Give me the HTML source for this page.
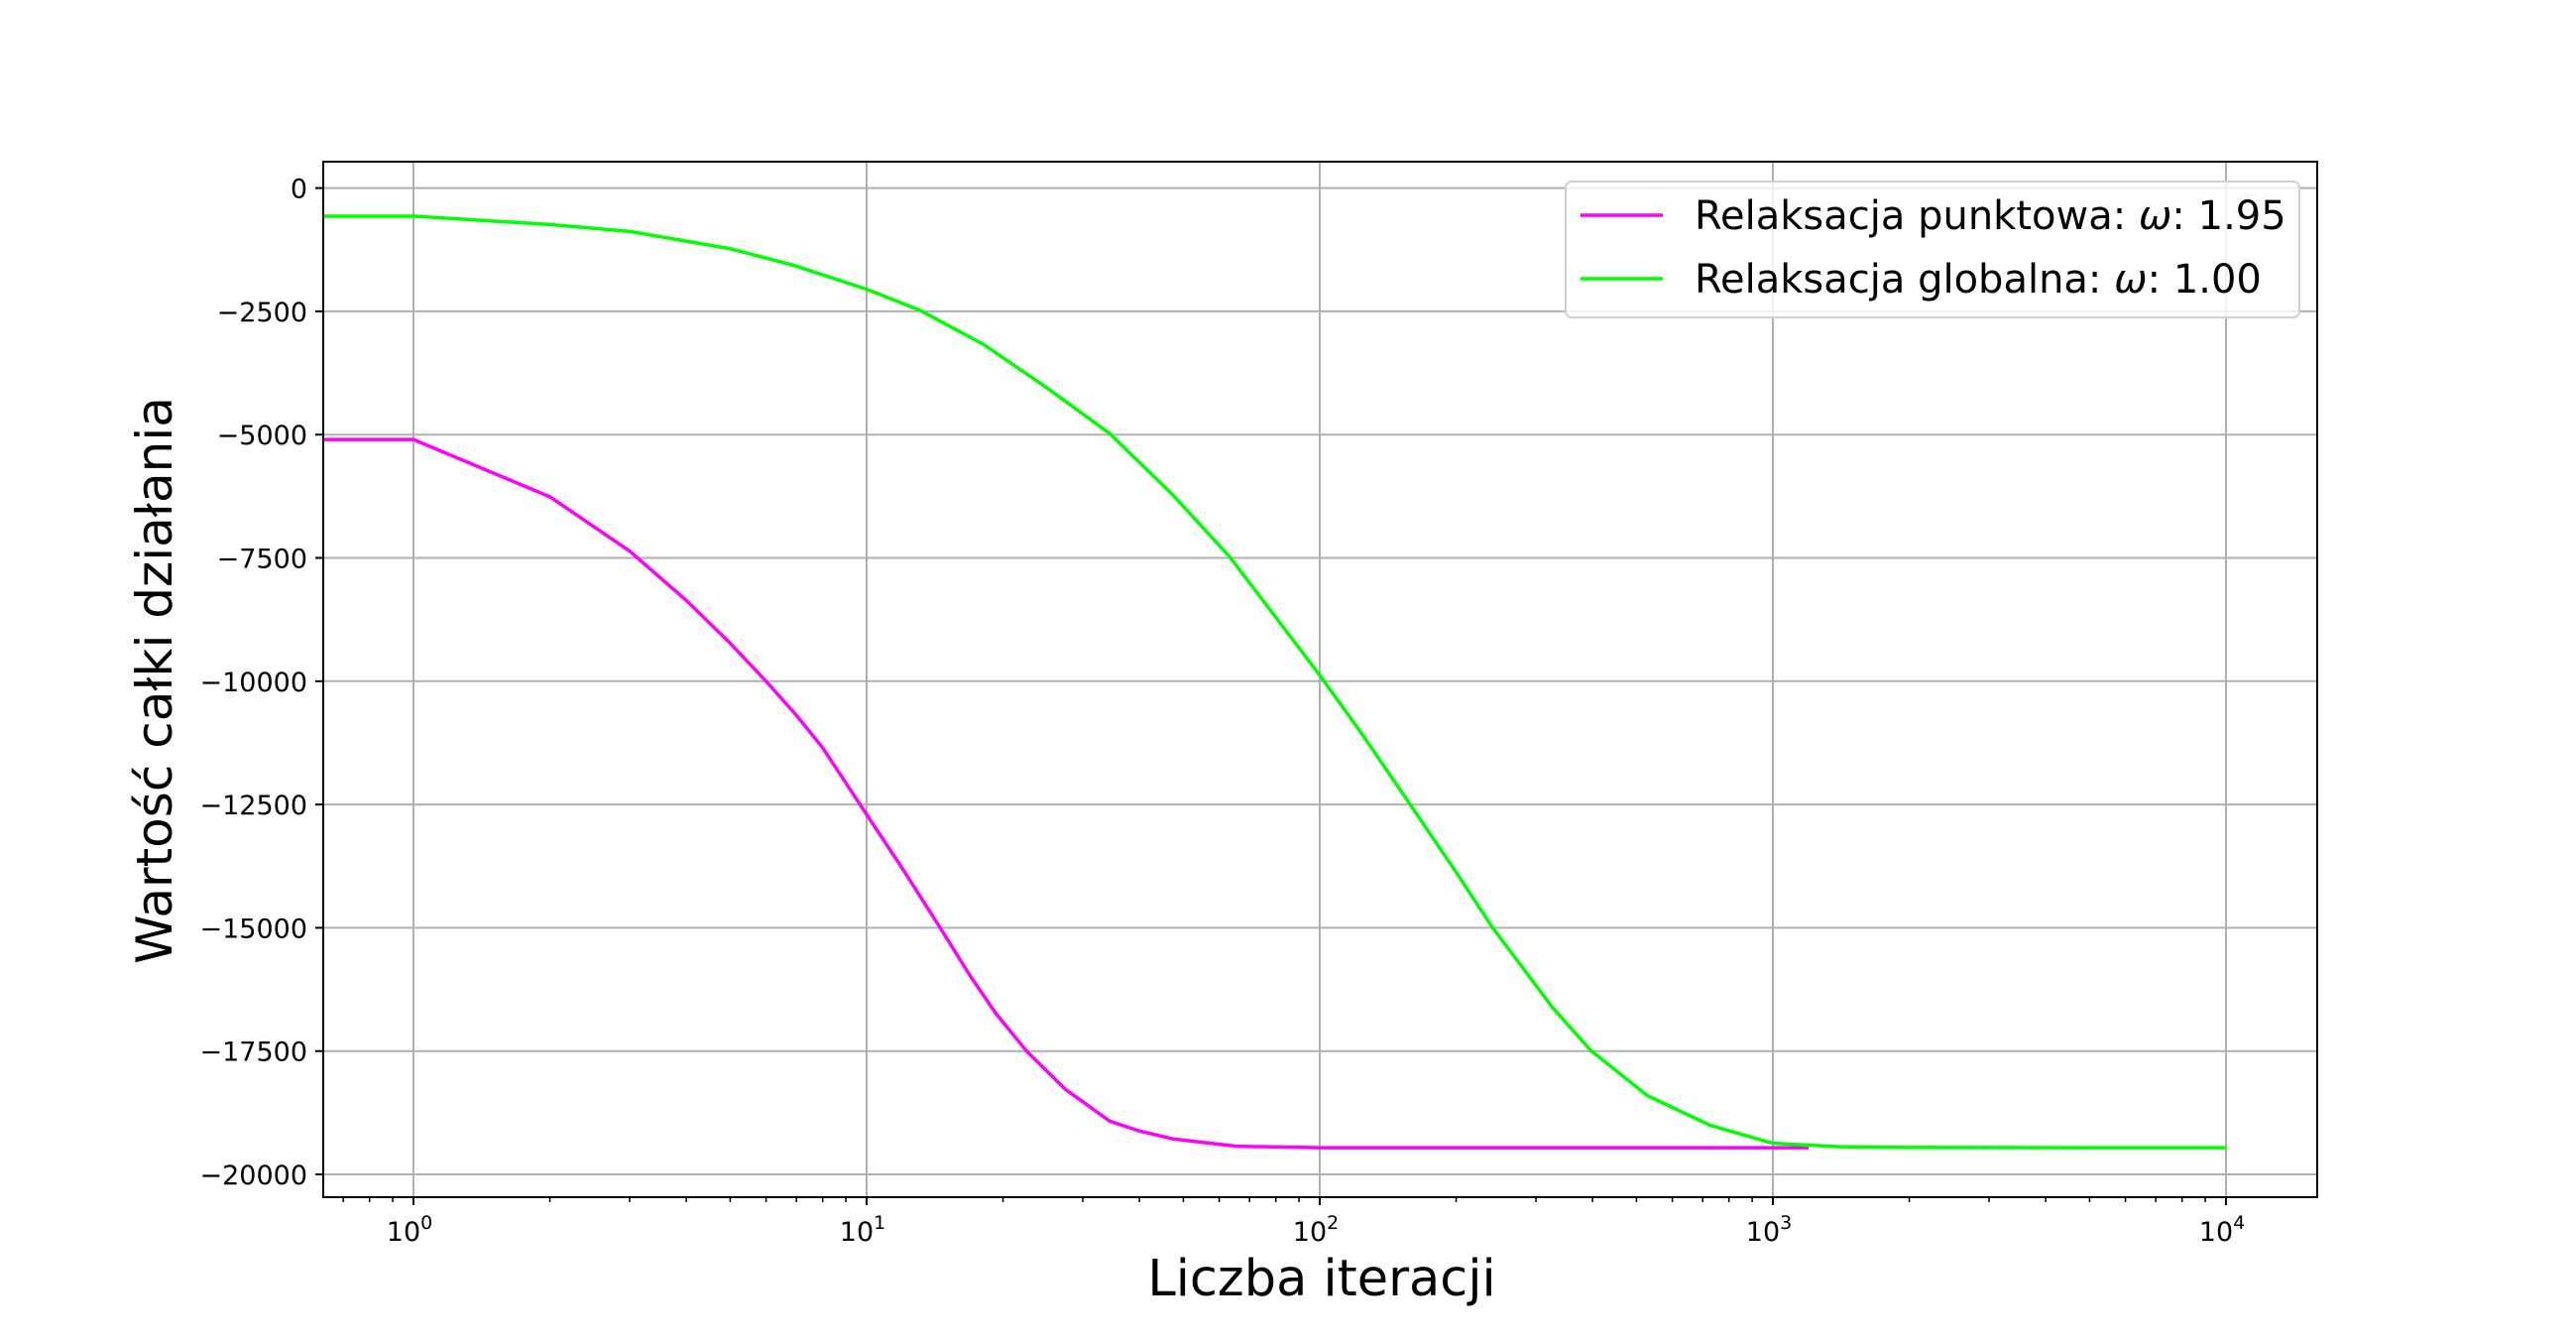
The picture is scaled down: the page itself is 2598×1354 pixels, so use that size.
<!DOCTYPE html>
<html><head><meta charset="utf-8"><style>
html,body{margin:0;padding:0;background:#fff;}
svg{display:block;font-family:"DejaVu Sans","Liberation Sans",sans-serif;}
</style></head><body>
<svg id="chart" width="2598" height="1354" viewBox="0 0 2598 1354" xmlns="http://www.w3.org/2000/svg">
<rect width="2598" height="1354" fill="#fff"/>
<g id="grid"></g>
<g id="series"></g>
<rect x="326" y="163" width="2011" height="1044" fill="none" stroke="#000" stroke-width="2"/>
<g id="ticks"></g>
<text x="1333" y="1306" font-size="51" text-anchor="middle">Liczba iteracji</text>
<text transform="translate(173,686) rotate(-90)" font-size="50" text-anchor="middle">Wartość całki działania</text>
<g>
<rect x="1579" y="183" width="740" height="137" rx="6" fill="#fff" fill-opacity="0.8" stroke="#d0d0d0" stroke-width="2"/>
<line x1="1594" y1="217" x2="1677" y2="217" stroke="#ff00ff" stroke-width="3.5"/>
<text x="1709" y="231" font-size="40">Relaksacja punktowa: <tspan font-style="italic">ω</tspan>: 1.95</text>
<line x1="1594" y1="281" x2="1677" y2="281" stroke="#00ff00" stroke-width="3.5"/>
<text x="1709" y="295" font-size="40">Relaksacja globalna: <tspan font-style="italic">ω</tspan>: 1.00</text>
</g>
</svg>
<script>
const yTicks = [0, -2500, -5000, -7500, -10000, -12500, -15000, -17500, -20000];
const yTickLabels = ["0", "\u22122500", "\u22125000", "\u22127500", "\u221210000", "\u221212500", "\u221215000", "\u221217500", "\u221220000"];
const xDecades = [0, 1, 2, 3, 4];
const iterP = [1, 2, 3, 4, 5, 6, 7, 8, 10, 12, 14.4, 17, 19.3, 22.6, 27.5, 34.4, 40, 47.4, 65.5, 100, 200, 500, 1000, 1200];
const valP = [-5100, -6260, -7360, -8360, -9230, -10000, -10690, -11350, -12700, -13800, -14940, -16000, -16740, -17510, -18280, -18920, -19120, -19280, -19430, -19459, -19460, -19460, -19460, -19460];
const iterG = [1, 2, 3, 5, 6.9, 10, 13.1, 18.1, 24.9, 34.4, 47.4, 63.3, 79.3, 100, 124.5, 158.5, 201.5, 240, 326, 396, 529, 729, 1000, 1400, 2000, 5000, 10000];
const valG = [-570, -740, -880, -1230, -1565, -2052, -2476, -3168, -4040, -4977, -6221, -7478, -8658, -9877, -11095, -12506, -13917, -14981, -16610, -17483, -18406, -19009, -19369, -19440, -19455, -19460, -19460];

const L=326,R=2337,T=163,B=1207;
const x0=417, dec=457;
function xs(v){return x0+Math.log10(v)*dec;}
function ys(v){return 189.6+(v/-2500)*124.3;}
const NS="http://www.w3.org/2000/svg";
function mk(tag,attrs,parent){const e=document.createElementNS(NS,tag);for(const k in attrs)e.setAttribute(k,attrs[k]);parent.appendChild(e);return e;}
const grid=document.getElementById('grid'), ticks=document.getElementById('ticks'), series=document.getElementById('series');

yTicks.forEach((v,i)=>{
  const y=ys(v);
  const g=mk('line',{x1:L,x2:R,y1:y,y2:y,stroke:'#b0b0b0','stroke-width':2},grid);
  
  
  const t=mk('line',{x1:L-8,x2:L,y1:y,y2:y,stroke:'#000','stroke-width':2},ticks);
  
  
  const lab=mk('text',{x:L-16,y:y+10,'font-size':27,'text-anchor':'end'},ticks);
  lab.textContent=yTickLabels[i];
  
  
});
xDecades.forEach(d=>{
  const x=xs(Math.pow(10,d));
  const g=mk('line',{x1:x,x2:x,y1:T,y2:B,stroke:'#b0b0b0','stroke-width':2},grid);
  
  
  const t=mk('line',{x1:x,x2:x,y1:B,y2:B+8,stroke:'#000','stroke-width':2},ticks);
  
  
  const lab=mk('text',{x:x-4,y:B+44,'font-size':27,'text-anchor':'middle'},ticks);
  
  
  lab.appendChild(document.createTextNode('10'));
  const sup=mk('tspan',{dy:-12,'font-size':19},lab);
  sup.textContent=String(d);
});
for(let d=-1;d<=4;d++){
  for(let m=2;m<=9;m++){
    const v=m*Math.pow(10,d), x=xs(v);
    if(x<L||x>R) continue;
    const t=mk('line',{x1:x,x2:x,y1:B,y2:B+5,stroke:'#000','stroke-width':1.5},ticks);
    
    
  }
}
function path(iters,vals){
  let d='M'+L+','+ys(vals[0]);
  iters.forEach((it,i)=>{d+=' L'+xs(it).toFixed(2)+','+ys(vals[i]).toFixed(2);});
  return d;
}
const pP=mk('path',{d:path(iterP,valP),fill:'none',stroke:'#ff00ff','stroke-width':3.5,'stroke-linejoin':'round'},series);


const pG=mk('path',{d:path(iterG,valG),fill:'none',stroke:'#00ff00','stroke-width':3.5,'stroke-linejoin':'round'},series);


</script>
</body></html>
